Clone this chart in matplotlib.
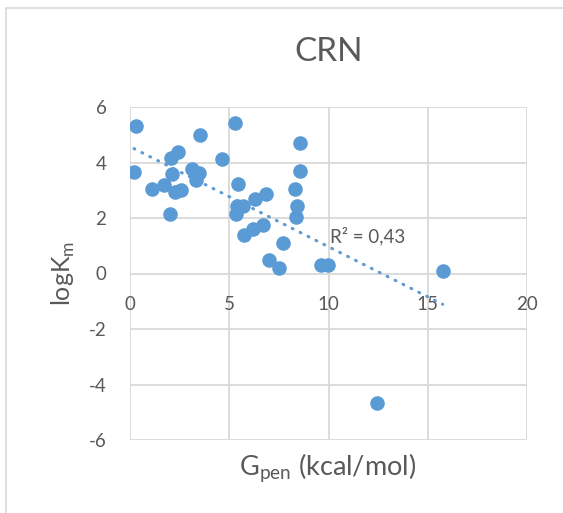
import numpy as np
import matplotlib
matplotlib.use("Agg")
from matplotlib import pyplot as plt
from matplotlib.patches import Rectangle

plt.rcParams['font.family'] = ['Lato', 'DejaVu Sans']
plt.rcParams['axes.unicode_minus'] = False

# G_pen (kcal/mol) et logKm pour chaque composé
g_pen = [0.29, 0.20, 1.10, 1.69, 2.00, 2.10, 2.07, 2.40, 2.28, 2.57,
         3.13, 3.47, 3.33, 3.55, 4.65, 5.30, 5.43, 5.41, 5.33, 5.67,
         5.75, 6.18, 6.29, 6.68, 6.85, 6.99, 7.50, 7.70, 8.29, 8.54,
         8.54, 8.43, 8.34, 9.64, 9.98, 15.75, 12.43]
log_km = [5.32, 3.66, 3.06, 3.18, 2.13, 3.57, 4.18, 4.38, 2.94, 3.01,
          3.78, 3.63, 3.36, 4.99, 4.14, 5.44, 3.21, 2.43, 2.13, 2.43,
          1.37, 1.59, 2.70, 1.73, 2.85, 0.48, 0.20, 1.11, 3.03, 4.69,
          3.69, 2.43, 2.05, 0.30, 0.30, 0.08, -4.65]

titre = "CRN"
texte_r2 = "R² = 0,43"
bleu = "#5B9BD5"
gris_texte = "#595959"
gris_grille = "#D9D9D9"

fig = plt.figure(figsize=(5.63, 5.13), dpi=100)
ax = fig.add_axes([130 / 563, 1 - 440 / 513, 397 / 563, 333 / 513])

# cadre du graphique (coupé à droite et en bas)
fig.patches.append(Rectangle((6 / 563, -0.1), 1.2, 1 - 8 / 513 + 0.1,
                             transform=fig.transFigure, fill=False,
                             edgecolor=gris_grille, linewidth=1.2))

ax.scatter(g_pen, log_km, s=110, color=bleu, zorder=3, linewidths=0)

# droite de tendance linéaire
x = np.array(g_pen)
y = np.array(log_km)
a, b = np.polyfit(x, y, 1)
xs = np.array([x.min(), x.max()])
ax.plot(xs, a * xs + b, color=bleu, linewidth=2.2,
        linestyle=(0, (0.3, 2.6)), dash_capstyle='round', zorder=2)
ax.text(10.1, 1.34, texte_r2, fontsize=13.5, color=gris_texte,
        ha='left', va='center')

ax.set_xlim(0, 20)
ax.set_ylim(-6, 6)
ax.set_xticks([0, 5, 10, 15, 20])
ax.set_yticks([-6, -4, -2, 0, 2, 4, 6])
ax.grid(True, color=gris_grille, linewidth=1.3)
ax.set_axisbelow(True)
for cote in ['top', 'right', 'bottom', 'left']:
    ax.spines[cote].set_visible(False)
ax.spines['bottom'].set_position(('data', 0))
ax.tick_params(axis='both', length=0, labelsize=13.5, labelcolor=gris_texte)
ax.tick_params(axis='x', pad=16)
ax.tick_params(axis='y', pad=17)

fig.text(329 / 563, 1 - 52 / 513, titre, fontsize=24, color=gris_texte,
         ha='center', va='center')
fig.text(328 / 563, 1 - 468 / 513, r"G$_{\mathregular{pen}}$ (kcal/mol)",
         fontsize=19.5, color=gris_texte, ha='center', va='center')
fig.text(63 / 563, 1 - 273 / 513, r"logK$_{\mathregular{m}}$",
         fontsize=18, color=gris_texte, ha='center', va='center',
         rotation=90)

fig.savefig("out.png", dpi=100)
